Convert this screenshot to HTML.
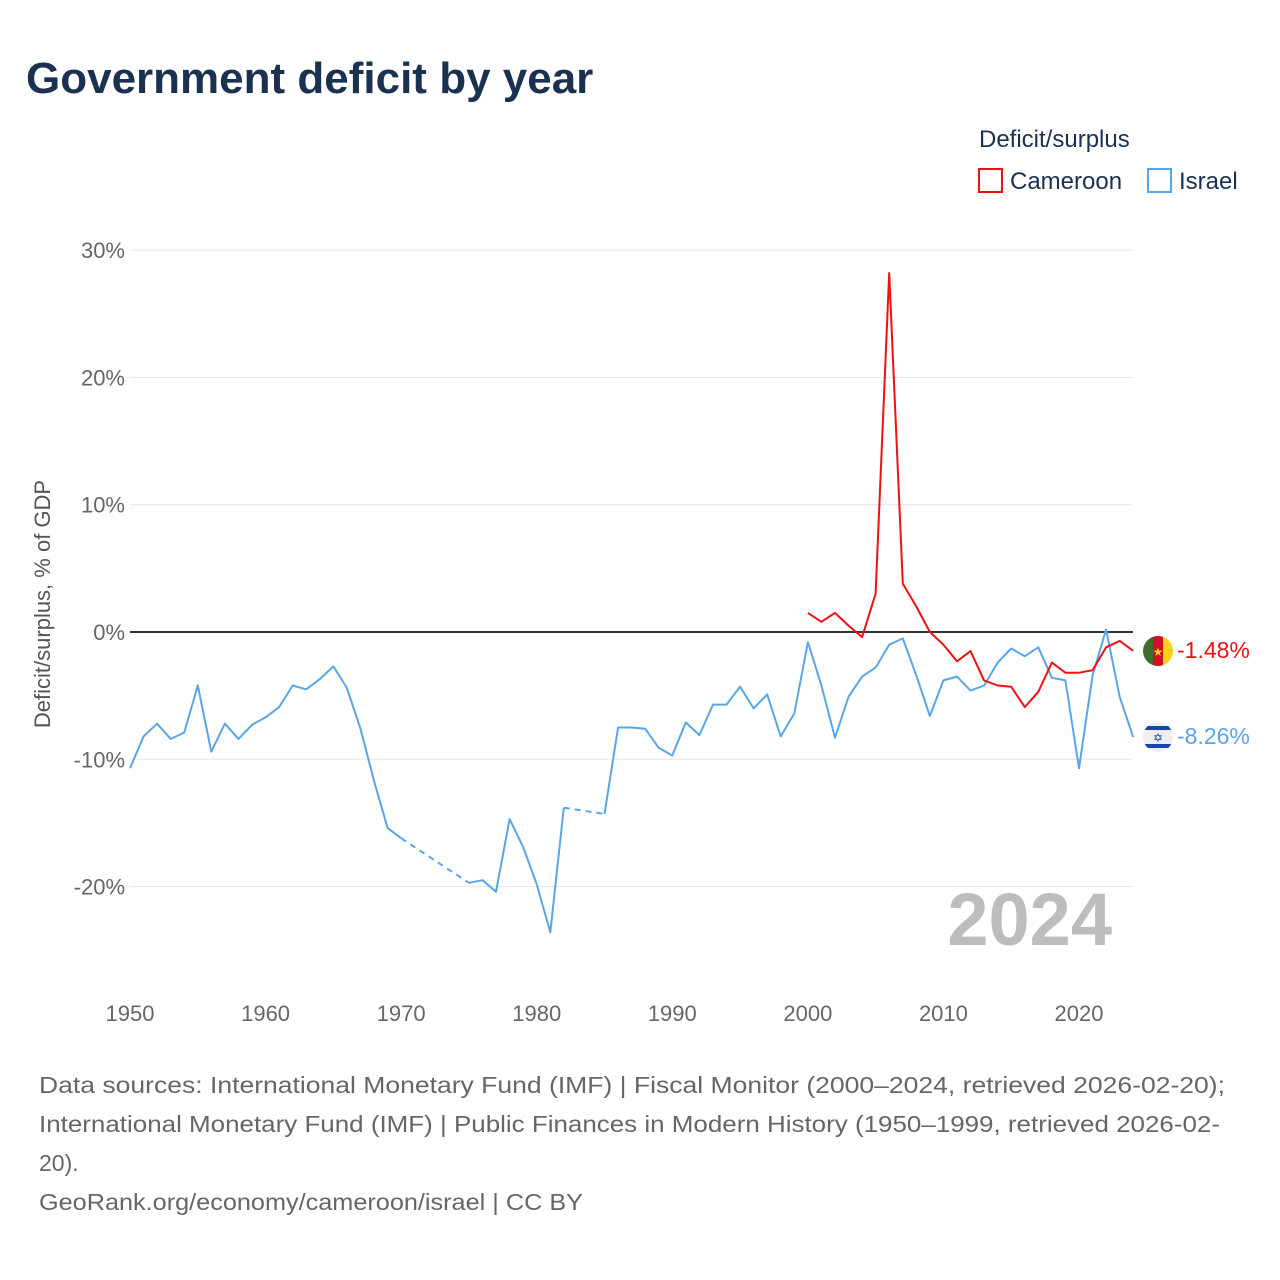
<!DOCTYPE html>
<html><head><meta charset="utf-8"><style>
body{margin:0;background:#fff;font-family:"Liberation Sans",sans-serif;}
#wrap{position:relative;width:1280px;height:1280px;overflow:hidden;}
</style></head><body>
<div id="wrap">
<svg id="chart" width="1280" height="1280">
<text x="26" y="93" font-size="44" font-weight="bold" fill="#1a3150">Government deficit by year</text>
<text x="979" y="147" font-size="24" fill="#1a3150">Deficit/surplus</text>
<g><rect x="979" y="169" width="23" height="23" fill="none" stroke="#ee1111" stroke-width="2"/><text x="1010" y="189" font-size="24" fill="#1a3150">Cameroon</text></g>
<g><rect x="1148" y="169" width="23" height="23" fill="none" stroke="#5aa5e8" stroke-width="2"/><text x="1179" y="189" font-size="24" fill="#1a3150">Israel</text></g>
<text transform="translate(50,604) rotate(-90)" text-anchor="middle" font-size="22" fill="#555">Deficit/surplus, % of GDP</text>
<g id="grid"></g><g id="series"></g>
<text x="1112" y="945" text-anchor="end" font-size="74" font-weight="bold" fill="#bdbdbd">2024</text>
<g><clipPath id="c1"><circle cx="1158" cy="651" r="15"/></clipPath><g clip-path="url(#c1)"><rect x="1143" y="636" width="10" height="30" fill="#3f6e2c"/><rect x="1153" y="636" width="10" height="30" fill="#ce1126"/><rect x="1163" y="636" width="10" height="30" fill="#fcd116"/></g><text x="1158" y="656" text-anchor="middle" font-size="12" fill="#fcd116">★</text></g>
<g><clipPath id="c2"><circle cx="1158" cy="737" r="15"/></clipPath><g clip-path="url(#c2)"><rect x="1143" y="722" width="30" height="30" fill="#eee"/><rect x="1143" y="726" width="30" height="4" fill="#1646a8"/><rect x="1143" y="744" width="30" height="4" fill="#1646a8"/></g><text x="1158" y="742" text-anchor="middle" font-size="12" fill="#1646a8">✡</text></g>
<text x="1177" y="658" font-size="23" fill="#ee1111">-1.48%</text>
<text x="1177" y="744" font-size="23" fill="#5aa5e8">-8.26%</text>
<g font-size="23" fill="#666">
<text x="39" y="1093" textLength="1186" lengthAdjust="spacingAndGlyphs">Data sources: International Monetary Fund (IMF) | Fiscal Monitor (2000–2024, retrieved 2026-02-20);</text>
<text x="39" y="1132" textLength="1181" lengthAdjust="spacingAndGlyphs">International Monetary Fund (IMF) | Public Finances in Modern History (1950–1999, retrieved 2026-02-</text>
<text x="39" y="1171">20).</text>
<text x="39" y="1210" textLength="544" lengthAdjust="spacingAndGlyphs">GeoRank.org/economy/cameroon/israel | CC BY</text>
</g>
</svg></div>
<script>
const years=[];for(let y=1950;y<=2024;y++)years.push(y);
const israel=[-10.7,-8.2,-7.2,-8.4,-7.9,-4.2,-9.4,-7.2,-8.4,-7.3,-6.7,-5.9,-4.2,-4.5,-3.7,-2.7,-4.4,-7.6,-11.7,-15.4,-16.2,null,null,null,null,-19.7,-19.5,-20.4,-14.7,-16.9,-19.8,-23.6,-13.8,null,null,-14.3,-7.5,-7.5,-7.6,-9.1,-9.7,-7.1,-8.1,-5.7,-5.7,-4.3,-6.0,-4.9,-8.2,-6.4,-0.8,-4.2,-8.3,-5.1,-3.5,-2.8,-1.0,-0.5,-3.4,-6.6,-3.8,-3.5,-4.6,-4.2,-2.4,-1.3,-1.9,-1.2,-3.6,-3.8,-10.7,-3.4,0.2,-5.1,-8.26];
const cameroonYears=[2000,2001,2002,2003,2004,2005,2006,2007,2008,2009,2010,2011,2012,2013,2014,2015,2016,2017,2018,2019,2020,2021,2022,2023,2024];
const cameroon=[1.5,0.8,1.5,0.5,-0.4,3.0,28.2,3.8,2.0,0,-1.0,-2.3,-1.5,-3.8,-4.2,-4.3,-5.9,-4.7,-2.4,-3.2,-3.2,-3.0,-1.2,-0.7,-1.48];
const yTicks=[30,20,10,0,-10,-20];
const yTickLabels=["30%","20%","10%","0%","-10%","-20%"];
const xTicks=[1950,1960,1970,1980,1990,2000,2010,2020];
const X=y=>130+(y-1950)*(1079-130)/70;
const Y=v=>632-v*12.73;
const NS="http://www.w3.org/2000/svg";
function mk(tag,attrs,parent){const e=document.createElementNS(NS,tag);for(const k in attrs)e.setAttribute(k,attrs[k]);parent.appendChild(e);return e;}
const grid=document.getElementById('grid');
yTicks.forEach((t,i)=>{
 const l=mk('line',{x1:130,x2:1133,y1:Y(t),y2:Y(t),stroke:t===0?'#333':'#e6e6e6','stroke-width':t===0?2:1},grid);
 
 
 const tx=mk('text',{x:125,y:Y(t)+8,'text-anchor':'end','font-size':22,fill:'#666'},grid);tx.textContent=yTickLabels[i];
 
 
});
xTicks.forEach(t=>{
 const tx=mk('text',{x:X(t),y:1021,'text-anchor':'middle','font-size':22,fill:'#666'},grid);tx.textContent=t;
 
 
});
const ser=document.getElementById('series');
function draw2(xs,vs,color,name){
 let solid='',dashed='',prev=null,lastSolidEnd=null;
 for(let i=0;i<xs.length;i++){
  if(vs[i]==null)continue;
  const p=X(xs[i]).toFixed(1)+','+Y(vs[i]).toFixed(1);
  if(prev){
   if(xs[i]-prev.x>1){dashed+='M'+prev.p+'L'+p;}
   else{solid+=(lastSolidEnd===prev.p?'L':'M'+prev.p+'L')+p;lastSolidEnd=p;}
  }
  prev={x:xs[i],p:p};
 }
 const s=mk('path',{d:solid,fill:'none',stroke:color,'stroke-width':2,'stroke-linejoin':'round'},ser);
 
 
 if(dashed){const d=mk('path',{d:dashed,fill:'none',stroke:color,'stroke-width':2,'stroke-dasharray':'6,5'},ser);
 
 }
}
draw2(years,israel,'#5aa5e8','israel');
draw2(cameroonYears,cameroon,'#ee1111','cameroon');
</script>
</body></html>
